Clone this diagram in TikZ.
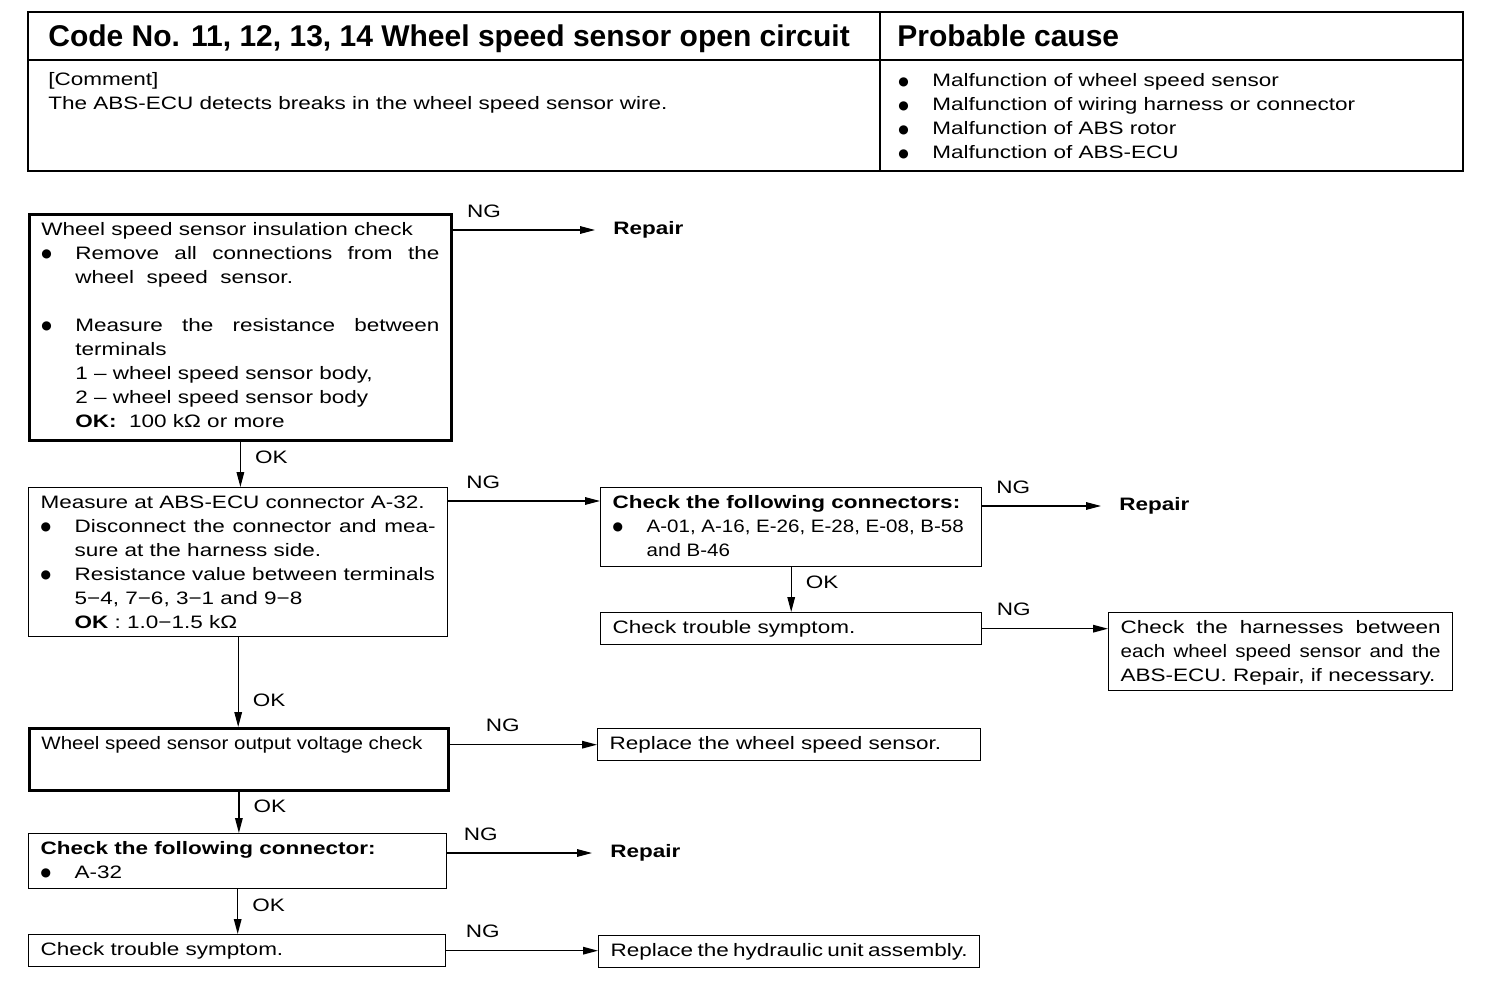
\documentclass[tikz,border=0pt]{standalone}
\usepackage{fontspec}
\setmainfont[FakeStretch=1.25]{Liberation Sans}
\newfontfamily\headfont{Liberation Sans}
\newfontfamily\narrowfont[FakeStretch=1.14]{Liberation Sans}
\newfontfamily\symfont{DejaVu Sans}
\usetikzlibrary{arrows.meta}

\newcommand{\boxtext}[3]{\begin{minipage}[t][#2][t]{#1}#3\end{minipage}}
\newcommand{\dotmark}{\raisebox{0.9pt}{\symfont\fontsize{6}{12}\selectfont ●}}
\newcommand{\bitem}[1]{\par\hangindent=17pt\hangafter=1\noindent\makebox[17pt][l]{\dotmark}#1}

\tikzset{x=0.5pt, y=-0.5pt,
    every node/.append style={font=\fontsize{9}{12}\selectfont, inner sep=0pt},
    flowbox/.style={draw, line width=0.7pt, anchor=north west, inner xsep=6pt, inner ysep=4pt},
    heavybox/.style={flowbox, line width=1.4pt},
    plain/.style={anchor=base west},
    headtext/.style={plain, font=\headfont\fontsize{15}{18}\selectfont\bfseries},
    fixnode/.style={anchor=west, inner xsep=9pt, font=\fontsize{9}{12}\selectfont\bfseries},
    tipline/.style={line width=0.6pt, -{Triangle[length=7.5pt,width=3.8pt]}},
    ngtag/.style={above=6pt},
    oktag/.style={right=7pt}}

\begin{document}
\begin{tikzpicture}
    \useasboundingbox (0,0) rectangle (1504,994);
    \draw[line width=1pt] (28,12) rectangle (1463,171);
    \draw[line width=1pt] (28,60) -- (1463,60);
    \draw[line width=0.8pt] (880,12) -- (880,171);
    \node[headtext] (title) at (48,47) {Code No. 11, 12, 13, 14 Wheel speed sensor open circuit};
    \node[headtext] (causehead) at (897,47) {Probable cause};
    \node[plain] (comment) at (48,86) {\begin{minipage}[t]{400pt}[Comment]\par
        The ABS-ECU detects breaks in the wheel speed sensor wire.\end{minipage}};
    \node[plain] (causes) at (898,87) {\begin{minipage}[t]{270pt}\setlength{\parindent}{0pt}%
        \bitem{Malfunction of wheel speed sensor}
        \bitem{Malfunction of wiring harness or connector}
        \bitem{Malfunction of ABS rotor}
        \bitem{Malfunction of ABS-ECU}\end{minipage}};

    \node[heavybox] (insul) at (28,213) {\boxtext{199pt}{105pt}{%
        Wheel speed sensor insulation check
        \bitem{Remove all connections from the\linebreak wheel\ \ speed\ \ sensor.}
        \par\vspace{12pt}
        \bitem{Measure the resistance between\linebreak terminals\\
            1 -- wheel speed sensor body,\\
            2 -- wheel speed sensor body\\
            \textbf{OK:}\ \ 100 kΩ or more}}};
    \node[fixnode] (repA) at (595,230) {Repair};
    \node[flowbox] (ecu) at (28,487) {\boxtext{197.5pt}{66.5pt}{%
        Measure at ABS-ECU connector A-32.
        \bitem{Disconnect the connector and mea-\linebreak sure at the harness side.}
        \bitem{Resistance value between terminals\\
            5−4, 7−6, 3−1 and 9−8\\
            \textbf{OK} : 1.0−1.5 kΩ}}};
    \node[flowbox] (conn) at (600,487) {\boxtext{178.5pt}{31.5pt}{%
        \textbf{Check the following connectors:}
        \bitem{{\narrowfont A-01, A-16, E-26, E-28, E-08, B-58\\ and B-46}}}};
    \node[fixnode] (repB) at (1101,506) {Repair};
    \node[flowbox] (symA) at (600,612) {\boxtext{178.5pt}{8pt}{Check trouble symptom.}};
    \node[flowbox] (harn) at (1108,612) {\boxtext{160pt}{31pt}{%
        Check the harnesses between\linebreak
        {\narrowfont each wheel speed sensor and the}\linebreak
        ABS-ECU. Repair, if necessary.}};
    \node[heavybox] (volt) at (28,727) {\boxtext{197.5pt}{23pt}{\narrowfont Wheel speed sensor output voltage check}};
    \node[flowbox] (repsens) at (597,728) {\boxtext{179.5pt}{8pt}{Replace the wheel speed sensor.}};
    \node[flowbox] (conA) at (28,833) {\boxtext{197pt}{19.5pt}{%
        \textbf{Check the following connector:}
        \bitem{A-32}}};
    \node[fixnode] (repC) at (592,853) {Repair};
    \node[flowbox] (symB) at (28,934) {\boxtext{196.5pt}{8pt}{Check trouble symptom.}};
    \node[flowbox] (rephyd) at (598,935) {\boxtext{178.5pt}{8pt}{Replace the hydraulic unit assembly.}};

    \coordinate (connin) at ([yshift=-7pt]conn.north west);
    \draw[tipline] (insul.east |- repA.west) -- node[ngtag, pos=0.22] {NG} (repA.west);
    \draw[tipline] (insul.south) -- node[oktag, pos=0.35] {OK} (insul.south |- ecu.north);
    \draw[tipline] (ecu.east |- connin) -- node[ngtag, pos=0.23] {NG} (connin);
    \draw[tipline] (conn.east |- repB.west) -- node[ngtag, pos=0.26] {NG} (repB.west);
    \draw[tipline] (conn.south) -- node[oktag, pos=0.33] {OK} (conn.south |- symA.north);
    \draw[tipline] (symA.east) -- node[ngtag, pos=0.25] {NG} (symA.east -| harn.west);
    \draw[tipline] (ecu.south) -- node[oktag, pos=0.7] {OK} (ecu.south |- volt.north);
    \draw[tipline] (volt.east |- repsens.west) -- node[ngtag, pos=0.36] {NG} (repsens.west);
    \draw[tipline] (volt.south) -- node[oktag, pos=0.36] {OK} (volt.south |- conA.north);
    \draw[tipline] (conA.east |- repC.west) -- node[ngtag, pos=0.23] {NG} (repC.west);
    \draw[tipline] (conA.south) -- node[oktag, pos=0.36] {OK} (conA.south |- symB.north);
    \draw[tipline] (symB.east) -- node[ngtag, pos=0.24] {NG} (symB.east -| rephyd.west);
\end{tikzpicture}
\end{document}
